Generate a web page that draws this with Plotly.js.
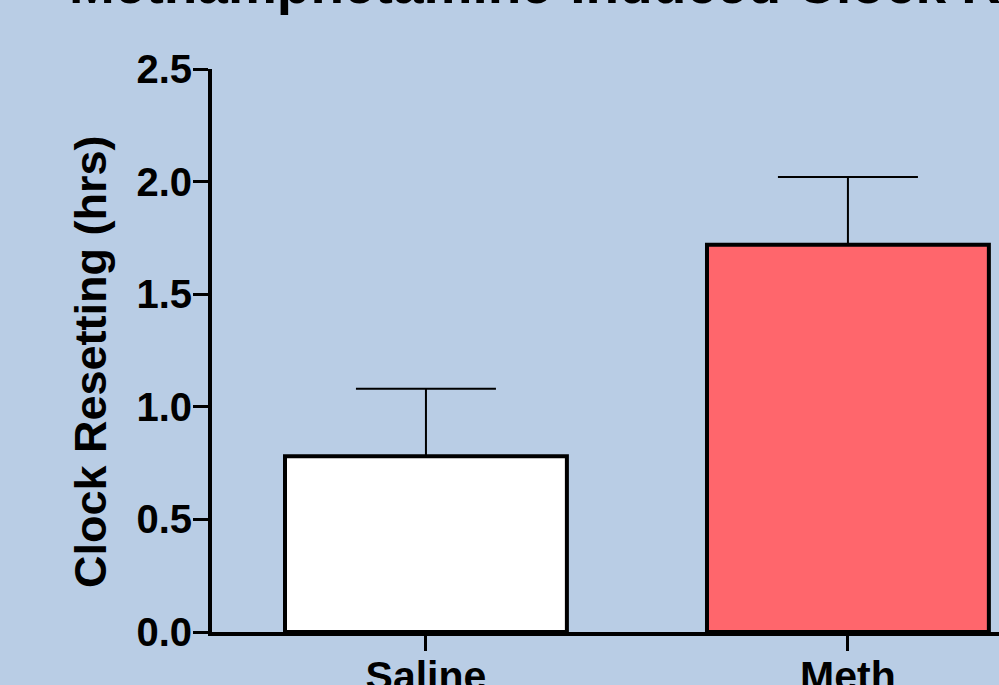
<!DOCTYPE html>
<html>
<head>
<meta charset="utf-8">
<script src="https://cdn.plot.ly/plotly-3.0.1.min.js"></script>
<style>html,body{margin:0;padding:0;background:#B9CDE5;}#chart{width:999px;height:685px;}</style>
</head>
<body>
<div id="chart"></div>
<script>
const categories = ["Saline", "Meth"];
const means = [0.78, 1.72];
const sem = [0.30, 0.30];
const barColors = ["#FFFFFF", "#FF666C"];
const titleText = "Methamphetamine-Induced Clock Resetting";
const yTitle = "Clock Resetting (hrs)";

const trace = {
  type: "bar",
  x: categories,
  y: means,
  width: 0.668,
  marker: { color: barColors, line: { color: "#000000", width: 4 } },
  error_y: { type: "data", symmetric: false, array: sem, arrayminus: [0, 0], color: "#000000", thickness: 2, width: 70 },
  hoverinfo: "none"
};

const layout = {
  width: 999,
  height: 685,
  paper_bgcolor: "#B9CDE5",
  plot_bgcolor: "#B9CDE5",
  margin: { l: 212, r: 0, t: 69, b: 53 },
  showlegend: false,
  font: { family: "Arial, Liberation Sans, sans-serif", color: "#000000" },
  xaxis: {
    type: "category",
    range: [-0.507, 1.358],
    showline: true, linecolor: "#000000", linewidth: 4,
    ticks: "outside", ticklen: 15, tickwidth: 3, tickcolor: "#000000",
    showgrid: false, zeroline: false, automargin: false,
    ticklabelstandoff: -10,
    tickfont: { size: 41, weight: 700, color: "#000000" }
  },
  yaxis: {
    range: [0, 2.5], dtick: 0.5, tick0: 0, tickformat: ".1f",
    showline: true, linecolor: "#000000", linewidth: 4,
    ticks: "outside", ticklen: 15, tickwidth: 3, tickcolor: "#000000",
    showgrid: false, zeroline: false, automargin: false,
    ticklabelstandoff: -7,
    tickfont: { size: 40, weight: 700, color: "#000000" }
  },
  annotations: [{
    text: titleText, xref: "paper", yref: "paper",
    x: -0.184, y: 1.151, xanchor: "left", yanchor: "middle",
    showarrow: false, font: { size: 55, weight: 700, color: "#000000" }
  }, {
    text: yTitle, xref: "paper", yref: "paper", textangle: -90,
    x: -0.1537, y: 0.4796, xanchor: "center", yanchor: "middle",
    showarrow: false, font: { size: 45, weight: 700, color: "#000000" }
  }]
};

Plotly.newPlot("chart", [trace], layout, { displayModeBar: false, staticPlot: true });
</script>
</body>
</html>
